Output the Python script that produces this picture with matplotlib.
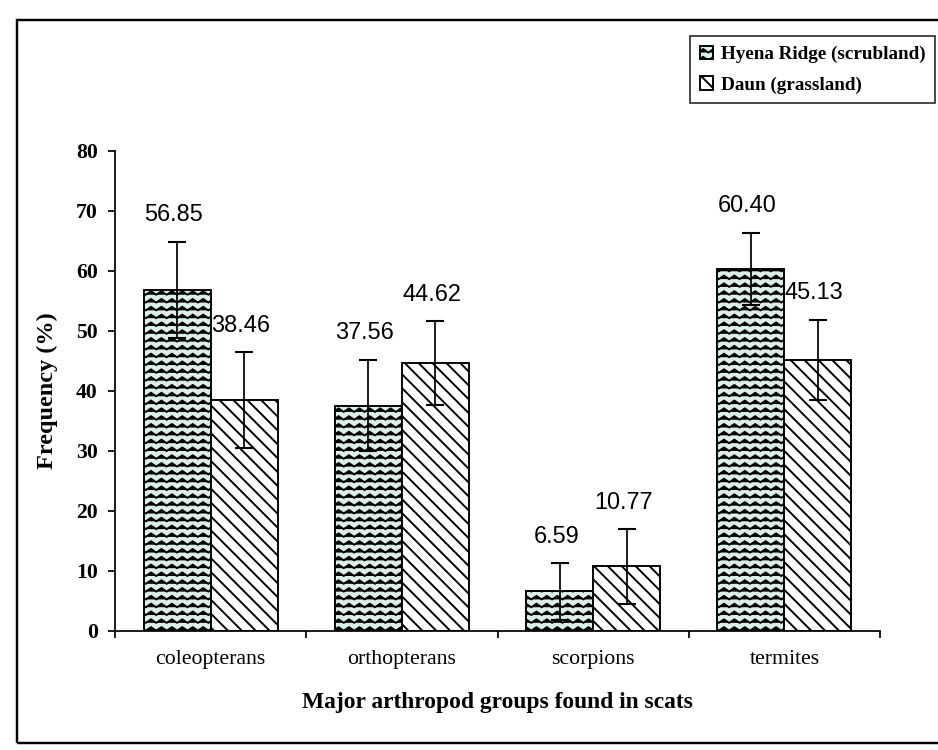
import warnings
import numpy as np
import matplotlib
matplotlib.use("Agg")
import matplotlib.pyplot as plt
import matplotlib.hatch as mhatch
from matplotlib.path import Path
from matplotlib.patches import Rectangle

warnings.filterwarnings("ignore")

# data
groups = ["coleopterans", "orthopterans", "scorpions", "termites"]
hyena = [56.85, 37.56, 6.59, 60.40]
daun = [38.46, 44.62, 10.77, 45.13]
hyena_err = [8.0, 7.6, 4.7, 6.0]
daun_err = [8.0, 7.0, 6.2, 6.7]
series_names = ["Hyena Ridge (scrubland)", "Daun (grassland)"]


# matplotlib has no wavy hatch, so add a zigzag one ('z')
class ZigzagHatch(mhatch.HatchPatternBase):
    def __init__(self, hatch, density):
        self.num_rows = hatch.count('z') * 16
        self.num_teeth = 12
        self.num_vertices = self.num_rows * (2 * self.num_teeth + 1)

    def set_vertices_and_codes(self, vertices, codes):
        n = 2 * self.num_teeth + 1
        xs = np.linspace(0.0, 1.0, n)
        bump = np.where(np.arange(n) % 2 == 0, -0.014, 0.014)
        steps, step = np.linspace(0.0, 1.0, self.num_rows, False, retstep=True)
        steps += step / 2
        for i, y in enumerate(steps):
            vertices[i * n:(i + 1) * n, 0] = xs
            vertices[i * n:(i + 1) * n, 1] = y + bump
            codes[i * n] = Path.MOVETO
            codes[i * n + 1:(i + 1) * n] = Path.LINETO


mhatch._hatch_types.append(ZigzagHatch)

plt.rcParams['hatch.linewidth'] = 1.1
serif = "Liberation Serif"
sans = "Liberation Sans"

fig = plt.figure(figsize=(7.504, 6.0), dpi=125)
ax = fig.add_axes([115 / 938, 119 / 750, 765 / 938, 480 / 750])

x = np.arange(len(groups))
w = 0.35
ax.bar(x - w / 2, hyena, w, color="#dcefe7", edgecolor="black", linewidth=1.1,
       hatch="z", label=series_names[0], zorder=2)
ax.bar(x + w / 2, daun, w, color="white", edgecolor="black", linewidth=1.1,
       hatch="\\\\\\", label=series_names[1], zorder=2)
ax.errorbar(x - w / 2, hyena, yerr=hyena_err, fmt="none", ecolor="black",
            elinewidth=1.0, capsize=5, capthick=1.2, zorder=3)
ax.errorbar(x + w / 2, daun, yerr=daun_err, fmt="none", ecolor="black",
            elinewidth=1.0, capsize=5, capthick=1.2, zorder=3)

for xs, vals, errs in [(x - w / 2, hyena, hyena_err), (x + w / 2, daun, daun_err)]:
    for xi, v, e in zip(xs, vals, errs):
        ax.annotate("{:.2f}".format(v), (xi, v + e), xytext=(-2, 9),
                    textcoords="offset points", ha="center", va="bottom",
                    fontsize=13.5, family=sans)

ax.set_xlim(-0.5, 3.5)
ax.set_ylim(0, 80)
ax.set_yticks(range(0, 81, 10))
ax.set_xticks(x)
ax.set_xticklabels(groups, family=serif, fontsize=12.5)
ax.set_xticks(np.arange(-0.5, 3.6, 1), minor=True)
ax.tick_params(axis="x", which="major", length=0, pad=11)
ax.tick_params(axis="x", which="minor", length=4, width=1.0, direction="out")
ax.tick_params(axis="y", length=4, width=1.0, direction="out", pad=6)
for lab in ax.get_yticklabels():
    lab.set_family(serif)
    lab.set_fontweight("bold")
    lab.set_fontsize(12.5)
for s in ["top", "right"]:
    ax.spines[s].set_visible(False)
for s in ["left", "bottom"]:
    ax.spines[s].set_linewidth(1.0)

ax.set_ylabel("Frequency (%)", family=serif, fontweight="bold", fontsize=14, labelpad=10)
ax.set_xlabel("Major arthropod groups found in scats", family=serif,
              fontweight="bold", fontsize=13.5, labelpad=13)

leg = ax.legend(loc="upper right", bbox_to_anchor=(935 / 938, 1 - 36 / 750),
                bbox_transform=fig.transFigure, prop={"family": serif, "weight": "bold", "size": 11},
                frameon=True, fancybox=False, edgecolor="black", handlelength=0.7,
                handleheight=0.7, handletextpad=0.4, borderpad=0.5, labelspacing=0.7,
                borderaxespad=0)
leg.get_frame().set_linewidth(1.0)

fig.patches.append(Rectangle((17 / 938, 7 / 750), 930 / 938, 723 / 750,
                             transform=fig.transFigure, fill=False,
                             edgecolor="black", linewidth=1.4))

fig.savefig("out.png", dpi=125)
